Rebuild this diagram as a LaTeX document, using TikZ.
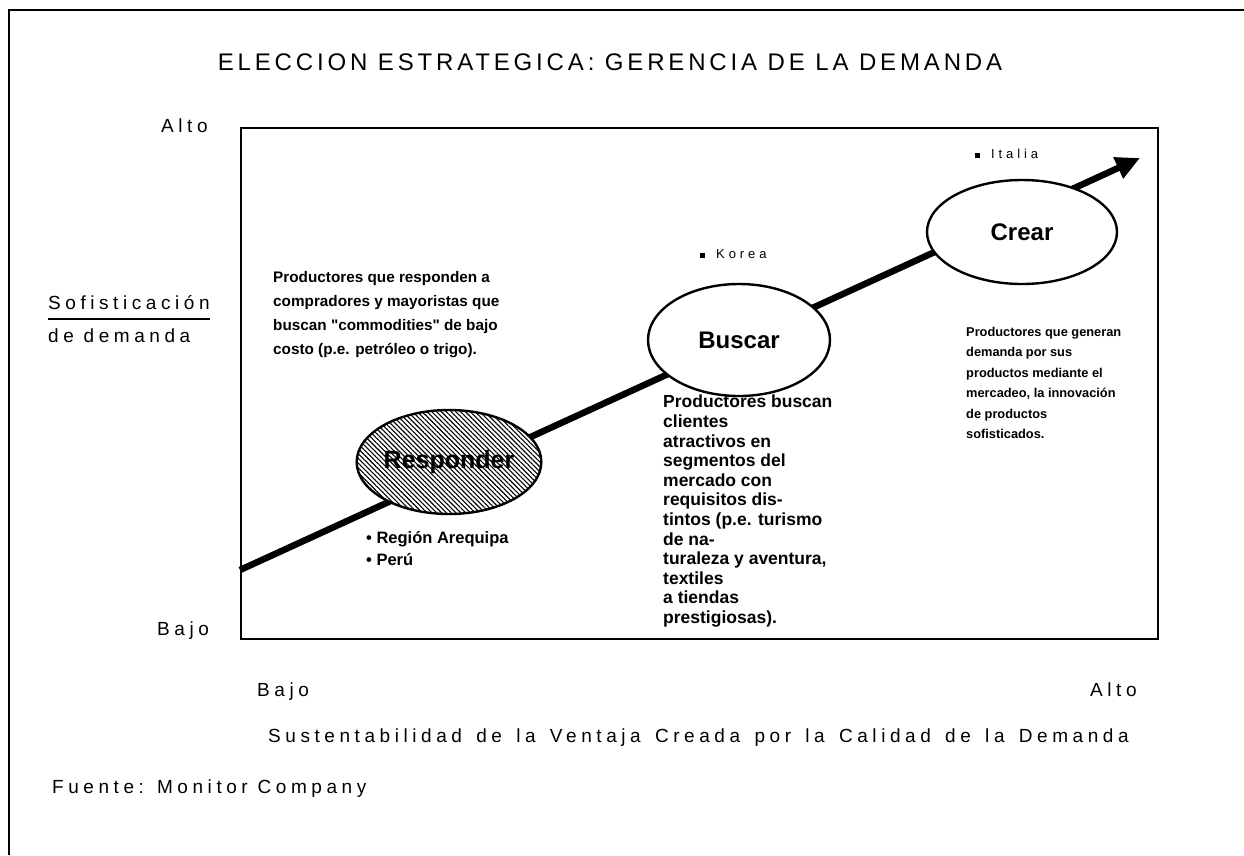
\documentclass[tikz,border=0pt]{standalone}
\usepackage{fontspec}
\setmainfont{Liberation Sans}
\newfontfamily\plotfont[LetterSpace=24]{Liberation Sans}
\newfontfamily\titlefont[LetterSpace=16]{Liberation Sans}
\newfontfamily\tagfont[LetterSpace=30]{Liberation Sans}
\newcommand\xgap{ \hspace{4.5pt}}
\usetikzlibrary{shapes.geometric,patterns.meta,arrows.meta}
\begin{document}
\begin{tikzpicture}[x=1pt,y=-1pt,
  frame/.style={line width=1.5pt},
  axlab/.style={font=\plotfont\fontsize{19}{22}\selectfont, inner sep=0pt, anchor=base west},
  tag/.style={font=\tagfont\fontsize{13}{15}\selectfont, inner sep=0pt, anchor=base west},
  block/.style={align=left, inner sep=0pt, anchor=north west},
  stage/.style={ellipse, draw, line width=2.4pt, fill=white, inner sep=0pt,
    font=\bfseries\fontsize{24}{28}\selectfont},
  trend/.style={line width=6.5pt, -{Triangle[length=24pt,width=22pt]}}
]
\useasboundingbox (0,0) rectangle (1244,855);
% outer frame
\draw[frame] (9,855) -- (9,10) -- (1244,10);
% title
\node[font=\titlefont\fontsize{24}{28}\selectfont, anchor=base, inner sep=0pt] (title) at (610,70.5)
  {ELECCION ESTRATEGICA: GERENCIA DE LA DEMANDA};
% plot area
\node[draw, frame, minimum width=917pt, minimum height=511pt, anchor=north west, inner sep=0pt] (plot) at (240,127) {};
% axis labels
\node[axlab] (yhi) at (161,132) {Alto};
\node[axlab] (ylab1) at (48,309) {Sofisticación};
\draw[line width=1.2pt] (48,319) -- (210,319);
\node[axlab] (ylab2) at (48,342) {de demanda};
\node[axlab] (ylo) at (157,635) {Bajo};
\node[axlab] (xlo) at (257,696) {Bajo};
\node[axlab] (xhi) at (1090,696) {Alto};
\node[axlab] (xlab) at (268,742) {Sustentabilidad\xgap de\xgap la\xgap Ventaja\xgap Creada\xgap por\xgap la\xgap Calidad\xgap de\xgap la\xgap Demanda};
\node[axlab] (src) at (52,793) {Fuente: Monitor Company};
% trend line
\coordinate (start) at (240,570);
\coordinate (tip) at (1140,158);
\draw[trend] (start) -- (tip);
% stages
\node[stage, minimum width=184pt, minimum height=104pt,
  preaction={fill=white}, pattern={Lines[angle=-45,distance=3.4pt,line width=1.1pt]},
  font=\bfseries\fontsize{25}{28}\selectfont] (resp) at (449,462) {Responder};
\node[stage, minimum width=182pt, minimum height=112pt] (busc) at (739,340) {Buscar};
\node[stage, minimum width=190pt, minimum height=104pt] (crear) at (1022,232) {Crear};
% tags
\node[tag] (korea) at (700,258) {\rule{5pt}{5pt}\hspace{11pt}Korea};
\node[tag] (italia) at (975,158) {\rule{5pt}{5pt}\hspace{11pt}Italia};
\node[block, font=\bfseries\fontsize{16.5}{22}\selectfont] (places) at (366,531)
  {• Región Arequipa\\• Perú};
% description blocks
\node[block, font=\bfseries\fontsize{15.3}{24}\selectfont] (dresp) at (273,271)
  {Productores que responden a\\compradores y mayoristas que\\buscan \textquotedbl commodities\textquotedbl{} de bajo\\costo (p.e. petróleo o trigo).};
\node[block, font=\bfseries\fontsize{17.5}{19.6}\selectfont] (dbusc) at (663,395)
  {Productores buscan\\clientes\\atractivos en\\segmentos del\\mercado con\\requisitos dis-\\tintos (p.e. turismo\\de na-\\turaleza y aventura,\\textiles\\a tiendas\\prestigiosas).};
\node[block, font=\bfseries\fontsize{12.8}{20.4}\selectfont] (dcrear) at (966,327)
  {Productores que generan\\demanda por sus\\productos mediante el\\mercadeo, la innovación\\de productos\\sofisticados.};
\end{tikzpicture}
\end{document}
